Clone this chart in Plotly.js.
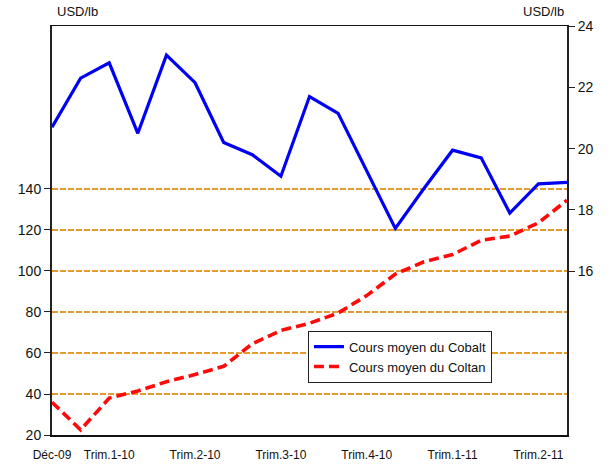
<!DOCTYPE html>
<html>
<head>
<meta charset="utf-8">
<script src="https://cdn.plot.ly/plotly-3.0.1.min.js"></script>
<style>
html,body{margin:0;padding:0;background:#fff;}
#chart{width:613px;height:466px;}
</style>
</head>
<body>
<div id="chart"></div>
<script>
const months = ["Déc-09","Jan-10","Fév-10","Mar-10","Avr-10","Mai-10","Juin-10","Juil-10","Août-10","Sep-10","Oct-10","Nov-10","Déc-10","Jan-11","Fév-11","Mar-11","Avr-11","Mai-11","Juin-11"];
const cobalt = [20.7,22.3,22.8,20.5,23.05,22.15,20.2,19.8,19.1,21.7,21.15,19.3,17.4,18.7,19.95,19.7,17.9,18.85,18.9];
const coltan = [36,22.5,38,41.5,46,49.5,53.5,64.5,71,74.5,79.5,88,98.5,104.5,108,115,117,123.5,134.5];
const xTickMonths = ["Déc-09","Fév-10","Mai-10","Août-10","Nov-10","Fév-11","Mai-11"];
const xTickText = ["Déc-09","Trim.1-10","Trim.2-10","Trim.3-10","Trim.4-10","Trim.1-11","Trim.2-11"];
const leftTicks = [20,40,60,80,100,120,140];
const rightTicks = [16,18,20,22,24];
const seriesNames = ["Cours moyen du Cobalt","Cours moyen du Coltan"];
const unitLabel = "USD/lb";

const font = "Liberation Sans, Arial, sans-serif";

const traces = [
  {x: months, y: cobalt, name: seriesNames[0], type: "scatter", mode: "lines", yaxis: "y2",
   line: {color: "#0000F5", width: 3.2}},
  {x: months, y: coltan, name: seriesNames[1], type: "scatter", mode: "lines", yaxis: "y",
   line: {color: "#FF0A0A", width: 3.6, dash: "10px,5px"}}
];

const layout = {
  width: 613, height: 466,
  margin: {l: 52, r: 46, t: 26, b: 31},
  paper_bgcolor: "#fff", plot_bgcolor: "#fff",
  font: {family: font, color: "#111"},
  showlegend: true,
  legend: {x: 0.497, y: 0.255, xanchor: "left", yanchor: "top",
           bgcolor: "#fff", bordercolor: "#222", borderwidth: 1,
           font: {size: 13, family: font, color: "#111"}, tracegroupgap: 0,
           itemwidth: 30},
  xaxis: {type: "category", range: [0, months.length - 1],
          tickmode: "array", tickvals: xTickMonths, ticktext: xTickText,
          ticks: "", showgrid: false, showline: true, mirror: true,
          linecolor: "#111", linewidth: 1.5, zeroline: false,
          tickfont: {size: 12, family: font, color: "#111"}, ticklabelstandoff: 8},
  yaxis: {range: [20, 219.5], tickmode: "array", tickvals: leftTicks,
          ticks: "outside", ticklen: 6, tickcolor: "#222", tickwidth: 1,
          showline: true, linecolor: "#222", linewidth: 2,
          showgrid: true, gridcolor: "#E5992E", griddash: "6px,2px", gridwidth: 1.6,
          zeroline: false, tickfont: {size: 14, family: font, color: "#111"}},
  yaxis2: {overlaying: "y", side: "right", range: [10.66, 24], tickmode: "array", tickvals: rightTicks,
           ticks: "outside", ticklen: 6, tickcolor: "#222", tickwidth: 1,
           showline: true, linecolor: "#222", linewidth: 2,
           showgrid: false, zeroline: false, tickfont: {size: 14, family: font, color: "#111"}},
  annotations: [
    {text: unitLabel, xref: "paper", yref: "paper", x: 0.005, y: 1.012, xanchor: "left", yanchor: "bottom",
     showarrow: false, font: {size: 13, family: font, color: "#111"}},
    {text: unitLabel, xref: "paper", yref: "paper", x: 0.998, y: 1.012, xanchor: "right", yanchor: "bottom",
     showarrow: false, font: {size: 13, family: font, color: "#111"}}
  ]
};

Plotly.newPlot("chart", traces, layout, {displayModeBar: false, staticPlot: true});
</script>
</body>
</html>
